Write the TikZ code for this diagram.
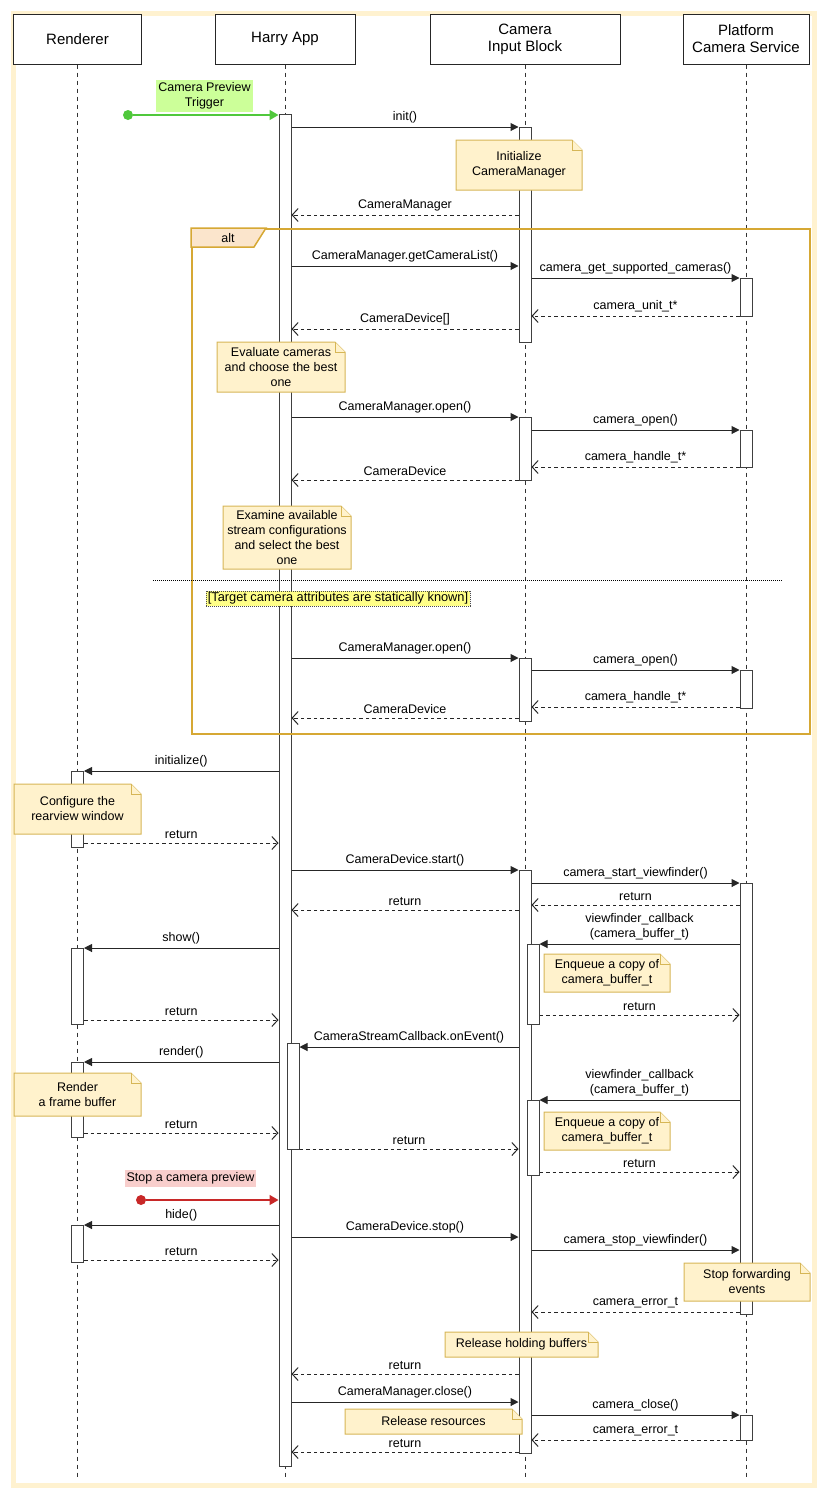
\documentclass[tikz,border=0pt]{standalone}
\usepackage{fontspec}
\setmainfont{Liberation Sans}
\usetikzlibrary{arrows.meta}
\definecolor{framecol}{RGB}{255,242,208}
\definecolor{notefill}{RGB}{255,242,204}
\definecolor{notedraw}{RGB}{214,182,86}
\definecolor{altborder}{RGB}{214,168,52}
\definecolor{altfill}{RGB}{251,229,204}
\definecolor{trgreen}{RGB}{80,200,60}
\definecolor{lightgreen}{RGB}{204,255,153}
\definecolor{trred}{RGB}{200,40,40}
\definecolor{lightred}{RGB}{248,206,204}
\definecolor{guardyellow}{RGB}{255,255,136}
\tikzset{
  head/.style={draw=black!85, fill=white, line width=1pt, align=center, inner sep=0pt,
    font=\fontsize{15}{17}\selectfont},
  lifeline/.style={draw=black!80, line width=0.8pt, dash pattern=on 4pt off 4pt},
  actbar/.style={draw=black!75, fill=white, line width=1pt, minimum width=12pt, inner sep=0pt},
  msg/.style={draw=black!85, line width=1pt, -{Triangle[length=8pt,width=8pt]}},
  ret/.style={draw=black!85, line width=1pt, dash pattern=on 3.5pt off 3pt,
    -{Straight Barb[length=6pt,width=13pt,line width=1pt]}},
  lbl/.style={above=2.5pt, inner sep=1pt, align=center},
  notebg/.style={draw=notedraw, fill=notefill, line width=1pt},
  notetxt/.style={inner sep=0pt, align=center},
}
\newcommand\sdbar[4]{\pgfmathsetmacro\sdbarh{#4-#3}%
  \node[actbar, minimum height=\sdbarh pt, anchor=north] (#1) at (#2,#3) {};}
\newcommand\sdnote[6]{%
  \filldraw[notebg] (#2,#3) -- (#4-10,#3) -- (#4,#3+10) -- (#4,#5) -- (#2,#5) -- cycle;
  \draw[notebg] (#4-10,#3) -- (#4-10,#3+10) -- (#4,#3+10);
  \node[notetxt] (#1) at ({(#2+#4)/2},{(#3+#5)/2}) {#6};}
\begin{document}
\begin{tikzpicture}[x=1pt,y=-1pt,font=\fontsize{12.5}{15}\selectfont]
\useasboundingbox (0,0) rectangle (840,1502);
% outer frame
\node[draw=framecol, line width=5pt, minimum width=801pt, minimum height=1472pt,
  anchor=north west, inner sep=0pt] (frame) at (10.5,10.5) {};
% headers
\node[head, minimum width=128pt, minimum height=50pt] (R) at (77.5,39) {Renderer};
\node[head, minimum width=140pt, minimum height=50pt] (H) at (285,39) {Harry App};
\node[head, minimum width=190pt, minimum height=50pt] (C) at (525,39) {Camera\\Input Block};
\node[head, minimum width=126pt, minimum height=50pt] (P) at (746,39) {Platform\\Camera Service};
% lifelines
\draw[lifeline] (R.south) -- (R.south |- 0,1477);
\draw[lifeline] (H.south) -- (H.south |- 0,1477);
\draw[lifeline] (C.south) -- (C.south |- 0,1477);
\draw[lifeline] (P.south) -- (P.south |- 0,1477);
% activation bars
\sdbar{hA}{285}{114}{1466}
\sdbar{hB}{293}{1043}{1149}
\sdbar{c1}{525}{127}{342}
\sdbar{c2}{525}{417}{480}
\sdbar{c3}{525}{658}{721}
\sdbar{c4}{525}{870}{1453}
\sdbar{c5}{533}{944}{1024}
\sdbar{c6}{533}{1100}{1175}
\sdbar{p1}{746}{278}{316}
\sdbar{p2}{746}{430}{467}
\sdbar{p3}{746}{670}{708}
\sdbar{p4}{746}{883}{1314}
\sdbar{p5}{746}{1415}{1440}
\sdbar{r1}{77.5}{771}{847}
\sdbar{r2}{77.5}{948}{1024}
\sdbar{r3}{77.5}{1062}{1137}
\sdbar{r4}{77.5}{1225}{1262}
% alt fragment
\node[draw=altborder, line width=1.5pt, minimum width=618pt, minimum height=505pt,
  anchor=north west, inner sep=0pt] (alt) at (191,228) {};
\filldraw[draw=altborder, fill=altfill, line width=1.5pt]
  (alt.north west) -- ++(75,0) -- ++(-12,19) -- ++(-63,0) -- cycle;
\node (altlbl) at (228,238) {alt};
\coordinate (sepA) at (153,580);
\coordinate (sepB) at (783,580);
\draw[black, line width=0.8pt, dash pattern=on 1pt off 1pt] (sepA) -- (sepB);
\node[fill=guardyellow, draw=black!70, dash pattern=on 1pt off 1pt, inner xsep=2pt, inner ysep=1.5pt,
  font=\fontsize{12.8}{14}\selectfont] (guard) at (338,598.5)
  {[Target camera attributes are statically known]};
% messages
\draw[msg] (hA.east |- 0,127) -- node[lbl]{init()} (c1.west |- 0,127);
\draw[ret] (c1.west |- 0,215) -- node[lbl]{CameraManager} (hA.east |- 0,215);
\draw[msg] (hA.east |- 0,266) -- node[lbl]{CameraManager.getCameraList()} (c1.west |- 0,266);
\draw[msg] (c1.east |- 0,278) -- node[lbl]{camera\_get\_supported\_cameras()} (p1.west |- 0,278);
\draw[ret] (p1.west |- 0,316) -- node[lbl]{camera\_unit\_t*} (c1.east |- 0,316);
\draw[ret] (c1.west |- 0,329) -- node[lbl]{CameraDevice[]} (hA.east |- 0,329);
\draw[msg] (hA.east |- 0,417) -- node[lbl]{CameraManager.open()} (c2.west |- 0,417);
\draw[msg] (c2.east |- 0,430) -- node[lbl]{camera\_open()} (p2.west |- 0,430);
\draw[ret] (p2.west |- 0,467) -- node[lbl]{camera\_handle\_t*} (c2.east |- 0,467);
\draw[ret] (c2.west |- 0,480) -- node[lbl]{CameraDevice} (hA.east |- 0,480);
\draw[msg] (hA.east |- 0,658) -- node[lbl]{CameraManager.open()} (c3.west |- 0,658);
\draw[msg] (c3.east |- 0,670) -- node[lbl]{camera\_open()} (p3.west |- 0,670);
\draw[ret] (p3.west |- 0,707) -- node[lbl]{camera\_handle\_t*} (c3.east |- 0,707);
\draw[ret] (c3.west |- 0,718) -- node[lbl]{CameraDevice} (hA.east |- 0,718);
\draw[msg] (hA.west |- 0,771) -- node[lbl]{initialize()} (r1.east |- 0,771);
\draw[ret] (r1.east |- 0,843) -- node[lbl]{return} (hA.west |- 0,843);
\draw[msg] (hA.east |- 0,870) -- node[lbl]{CameraDevice.start()} (c4.west |- 0,870);
\draw[msg] (c4.east |- 0,883) -- node[lbl]{camera\_start\_viewfinder()} (p4.west |- 0,883);
\draw[ret] (p4.west |- 0,905) -- node[lbl,above=0.5pt]{return} (c4.east |- 0,905);
\draw[ret] (c4.west |- 0,910) -- node[lbl]{return} (hA.east |- 0,910);
\draw[msg] (p4.west |- 0,944) -- node[lbl]{viewfinder\_callback\\(camera\_buffer\_t)} (c5.east |- 0,944);
\draw[msg] (hA.west |- 0,948) -- node[lbl]{show()} (r2.east |- 0,948);
\draw[ret] (c5.east |- 0,1015) -- node[lbl]{return} (p4.west |- 0,1015);
\draw[ret] (r2.east |- 0,1020) -- node[lbl]{return} (hA.west |- 0,1020);
\draw[msg] (c4.west |- 0,1047) -- node[lbl]{CameraStreamCallback.onEvent()} (hB.east |- 0,1047);
\draw[msg] (hA.west |- 0,1062) -- node[lbl]{render()} (r3.east |- 0,1062);
\draw[msg] (p4.west |- 0,1100) -- node[lbl]{viewfinder\_callback\\(camera\_buffer\_t)} (c6.east |- 0,1100);
\draw[ret] (r3.east |- 0,1133) -- node[lbl]{return} (hA.west |- 0,1133);
\draw[ret] (hB.east |- 0,1149) -- node[lbl]{return} (c4.west |- 0,1149);
\draw[ret] (c6.east |- 0,1172) -- node[lbl]{return} (p4.west |- 0,1172);
\draw[msg] (hA.west |- 0,1225) -- node[lbl]{hide()} (r4.east |- 0,1225);
\draw[msg] (hA.east |- 0,1237) -- node[lbl]{CameraDevice.stop()} (c4.west |- 0,1237);
\draw[msg] (c4.east |- 0,1250) -- node[lbl]{camera\_stop\_viewfinder()} (p4.west |- 0,1250);
\draw[ret] (r4.east |- 0,1260) -- node[lbl]{return} (hA.west |- 0,1260);
\draw[ret] (p4.west |- 0,1312) -- node[lbl]{camera\_error\_t} (c4.east |- 0,1312);
\draw[ret] (c4.west |- 0,1374) -- node[lbl]{return} (hA.east |- 0,1374);
\draw[msg] (hA.east |- 0,1402) -- node[lbl]{CameraManager.close()} (c4.west |- 0,1402);
\draw[msg] (c4.east |- 0,1415) -- node[lbl]{camera\_close()} (p5.west |- 0,1415);
\draw[ret] (p5.west |- 0,1440) -- node[lbl]{camera\_error\_t} (c4.east |- 0,1440);
\draw[ret] (c4.west |- 0,1452) -- node[lbl]{return} (hA.east |- 0,1452);
% notes
\sdnote{nInit}{456}{140}{582}{190}{Initialize\\CameraManager}
\sdnote{nEval}{217}{342}{345}{392}{Evaluate cameras\\and choose the best\\one}
\sdnote{nExam}{223}{506}{351}{569}{Examine available\\stream configurations\\and select the best\\one}
\sdnote{nConf}{14}{784}{141}{834}{Configure the\\rearview window}
\sdnote{nEnq1}{544}{954}{670}{992}{Enqueue a copy of\\camera\_buffer\_t}
\sdnote{nRend}{14}{1073}{141}{1116}{Render\\a frame buffer}
\sdnote{nEnq2}{544}{1112}{670}{1150}{Enqueue a copy of\\camera\_buffer\_t}
\sdnote{nStop}{684}{1263}{810}{1301}{Stop forwarding\\events}
\sdnote{nHold}{445}{1332}{598}{1357}{Release holding buffers}
\sdnote{nRes}{345}{1409}{522}{1434}{Release resources}
% triggers
\node[fill=lightgreen, inner sep=0pt, align=center, minimum width=97pt, minimum height=32pt]
  (glbl) at (204.5,96) {Camera Preview\\Trigger};
\node[circle, fill=trgreen, minimum size=10pt, inner sep=0pt] (gstart) at (128,115) {};
\draw[trgreen, line width=1.5pt, -{Triangle[length=9pt,width=10pt]}] (gstart) -- (hA.west |- gstart);
\node[fill=lightred, inner sep=0pt, minimum width=131pt, minimum height=17pt]
  (rlbl) at (190.5,1178) {Stop a camera preview};
\node[circle, fill=trred, minimum size=10pt, inner sep=0pt] (rstart) at (141,1200) {};
\draw[trred, line width=1.5pt, -{Triangle[length=9pt,width=10pt]}] (rstart) -- (hA.west |- rstart);
\end{tikzpicture}
\end{document}
